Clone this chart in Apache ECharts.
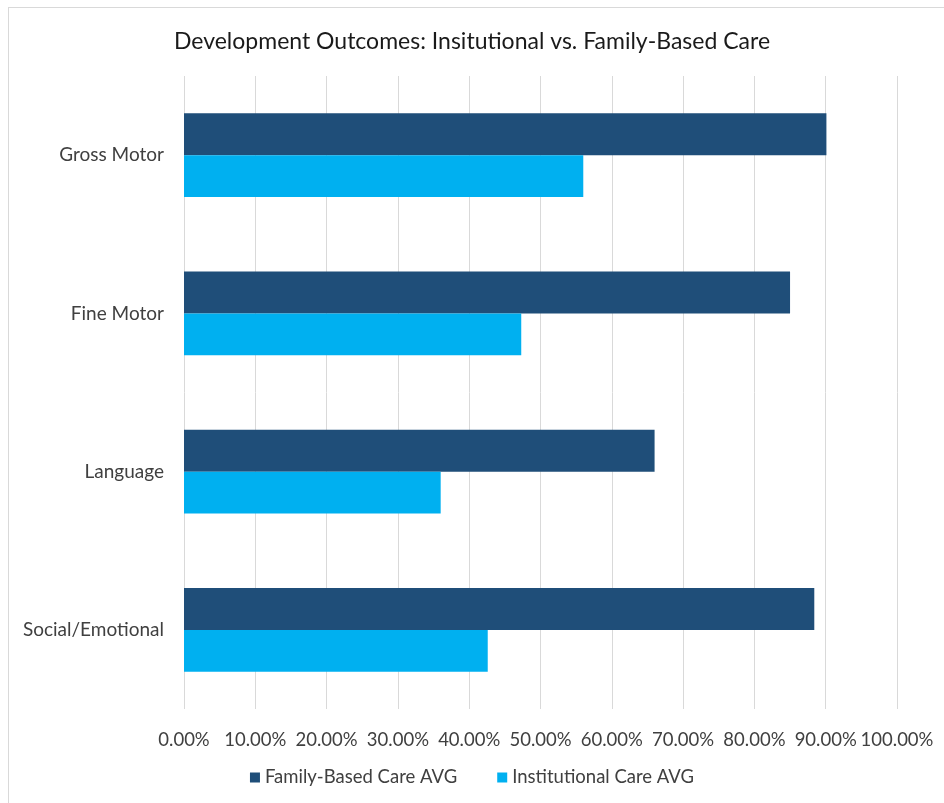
<!DOCTYPE html>
<html>
<head>
<meta charset="utf-8">
<script src="https://cdn.jsdelivr.net/npm/echarts@6/dist/echarts.min.js"></script>
<style>
html,body{margin:0;padding:0;background:#fff;}
#frame{position:absolute;left:8px;top:7px;width:940px;height:800px;border:1px solid #d9d9d9;box-sizing:border-box;}
#chart{position:absolute;left:0;top:0;width:944px;height:803px;}
</style>
</head>
<body>
<div id="frame"></div>
<div id="chart"></div>
<script>
const categories = ['Gross Motor', 'Fine Motor', 'Language', 'Social/Emotional'];
const familyAvg = [90.1, 85.0, 66.0, 88.4];
const institutionalAvg = [56.0, 47.3, 36.0, 42.6];
const seriesNames = ['Family-Based Care AVG', 'Institutional Care AVG'];
const titleText = 'Development Outcomes: Insitutional vs. Family-Based Care';

const font = 'Lato, "Liberation Sans", sans-serif';
const chart = echarts.init(document.getElementById('chart'), null, {renderer: 'canvas'});
chart.setOption({
  animation: false,
  backgroundColor: 'transparent',
  title: {
    text: titleText,
    left: 'center',
    top: 25,
    textStyle: {fontFamily: font, fontSize: 23, fontWeight: 'normal', color: '#1a1a1a'}
  },
  legend: {
    bottom: 11,
    left: 'center',
    itemWidth: 10,
    itemHeight: 10,
    itemGap: 40,
    icon: 'rect',
    textStyle: {fontFamily: font, fontSize: 18.5, color: '#404040'},
    data: seriesNames
  },
  grid: {left: 184, right: 47, top: 76, bottom: 94, containLabel: false},
  xAxis: {
    type: 'value',
    min: 0,
    max: 100,
    interval: 10,
    axisLine: {show: false},
    axisTick: {show: false},
    splitLine: {show: true, lineStyle: {color: '#d9d9d9', width: 1}},
    axisLabel: {
      fontFamily: font, fontSize: 18.5, color: '#404040', margin: 22,
      formatter: v => v.toFixed(2) + '%'
    }
  },
  yAxis: {
    type: 'category',
    inverse: true,
    data: categories,
    axisLine: {show: false},
    axisTick: {show: false},
    axisLabel: {fontFamily: font, fontSize: 19, color: '#404040', margin: 20}
  },
  series: [
    {
      name: seriesNames[0], type: 'bar', data: familyAvg,
      barCategoryGap: '47%', barGap: '0%',
      itemStyle: {color: '#1F4E79'}
    },
    {
      name: seriesNames[1], type: 'bar', data: institutionalAvg,
      barCategoryGap: '47%', barGap: '0%',
      itemStyle: {color: '#00B0F0'}
    }
  ]
});
</script>
</body>
</html>
